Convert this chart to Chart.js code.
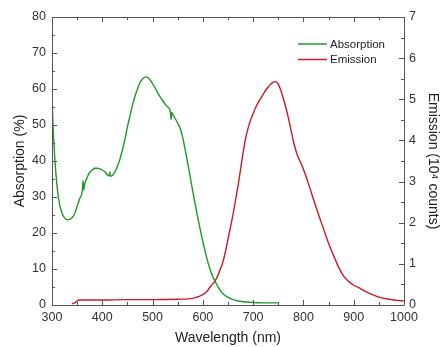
<!DOCTYPE html>
<html>
<head>
<meta charset="utf-8">
<script src="https://cdn.jsdelivr.net/npm/chart.js@4.4.1/dist/chart.umd.min.js"></script>
<style>
  html, body { margin: 0; padding: 0; background: #fff; }
  #wrap { width: 441px; height: 347px; }
</style>
</head>
<body>
<div id="wrap"><canvas id="c" width="441" height="347"></canvas></div>
<script>
// Absorption spectrum: wavelength (nm) and absorption (%)
const absWavelength = [300, 302, 305, 310, 315, 320, 325, 330, 335, 340, 345, 350, 355, 360, 362, 363, 365, 370, 375, 380, 385, 390, 395, 400, 405, 410, 414, 415, 416, 420, 425, 430, 435, 440, 445, 450, 455, 460, 465, 470, 475, 480, 485, 490, 495, 500, 505, 510, 515, 520, 525, 530, 535, 537, 538, 540, 545, 550, 555, 560, 565, 570, 575, 580, 585, 590, 595, 600, 605, 610, 615, 620, 625, 630, 635, 640, 650, 660, 670, 680, 700, 720, 750];
const absPercent = [58, 50, 42, 33, 28, 25.5, 24.2, 23.7, 23.8, 24.3, 25.3, 27.5, 29.5, 31.5, 34.5, 32, 33.5, 35.5, 36.8, 37.5, 38, 38, 37.8, 37.5, 37, 36.2, 35.8, 37, 35.8, 36, 37, 38.5, 40.5, 43, 46, 49.5, 52.5, 55.5, 58, 60, 61.8, 62.8, 63.3, 63.2, 62.5, 61.5, 60.3, 59, 57.8, 56.8, 55.8, 55, 54, 51.5, 53.5, 53, 51.8, 50.5, 49, 46.5, 43, 39.3, 35.5, 31.5, 27.8, 24.2, 20.8, 17.6, 14.6, 11.9, 9.6, 7.8, 6.4, 5.1, 4, 3.1, 2.1, 1.5, 1.1, 0.9, 0.7, 0.6, 0.6];

// Emission spectrum: wavelength (nm) and counts (10^4)
const emWavelength = [340, 345, 350, 355, 400, 450, 500, 550, 580, 590, 600, 605, 610, 615, 620, 625, 630, 635, 640, 645, 650, 655, 660, 665, 670, 675, 680, 685, 690, 695, 700, 705, 710, 715, 720, 725, 730, 735, 740, 745, 750, 755, 760, 765, 770, 775, 780, 785, 790, 795, 800, 810, 820, 830, 840, 850, 860, 870, 880, 890, 900, 910, 920, 930, 940, 950, 960, 970, 980, 990, 1000];
const emCounts = [0.03, 0.05, 0.1, 0.12, 0.12, 0.13, 0.13, 0.14, 0.16, 0.2, 0.25, 0.3, 0.36, 0.45, 0.52, 0.6, 0.72, 0.88, 1.05, 1.3, 1.6, 1.9, 2.2, 2.55, 2.9, 3.3, 3.7, 4.05, 4.3, 4.5, 4.65, 4.8, 4.92, 5.02, 5.12, 5.22, 5.3, 5.37, 5.42, 5.43, 5.36, 5.22, 5.02, 4.8, 4.55, 4.27, 3.98, 3.75, 3.58, 3.45, 3.3, 2.95, 2.57, 2.2, 1.85, 1.5, 1.2, 0.92, 0.7, 0.57, 0.48, 0.42, 0.35, 0.29, 0.24, 0.19, 0.16, 0.14, 0.12, 0.11, 0.1];

// Axis ranges and tick steps
const xRange = [300, 1000];
const xMajorStep = 100;
const xMinorStep = 50;
const yLeftRange = [0, 80];
const yLeftMajor = 10;
const yLeftMinor = 5;
const yRightRange = [0, 7];
const yRightMajor = 1;
const yRightMinor = 0.5;

const seriesLabels = ['Absorption', 'Emission'];
const seriesColors = ['#1e9a2a', '#cc1a26'];

const FONT = "'Liberation Sans', Arial, sans-serif";
const FRAME = '#555555';

function toPoints(xs, ys) {
  return xs.map((x, i) => ({ x: x, y: ys[i] }));
}

// Frame, inward ticks and the legend box
const frameAndTicks = {
  id: 'frameAndTicks',
  afterDatasetsDraw(chart) {
    const ctx = chart.ctx;
    const a = chart.chartArea;
    const sx = chart.scales.x, sy = chart.scales.y, sr = chart.scales.y1;
    ctx.save();
    ctx.strokeStyle = FRAME;
    ctx.lineWidth = 1;
    ctx.beginPath();
    ctx.rect(Math.round(a.left) + 0.5, Math.round(a.top) + 0.5, Math.round(a.right - a.left), Math.round(a.bottom - a.top));
    ctx.stroke();

    ctx.beginPath();
    for (let v = xRange[0]; v <= xRange[1]; v += xMinorStep) {
      const px = Math.round(sx.getPixelForValue(v)) + 0.5;
      const len = (v % xMajorStep === 0) ? 5 : 3;
      ctx.moveTo(px, a.bottom); ctx.lineTo(px, a.bottom - len);
      ctx.moveTo(px, a.top); ctx.lineTo(px, a.top + len);
    }
    for (let v = yLeftRange[0]; v <= yLeftRange[1]; v += yLeftMinor) {
      const py = Math.round(sy.getPixelForValue(v)) + 0.5;
      const len = (v % yLeftMajor === 0) ? 5 : 3;
      ctx.moveTo(a.left, py); ctx.lineTo(a.left + len, py);
    }
    for (let v = yRightRange[0]; v <= yRightRange[1] + 1e-9; v += yRightMinor) {
      const py = Math.round(sr.getPixelForValue(v)) + 0.5;
      const len = (Math.abs(v % yRightMajor) < 1e-9) ? 5 : 3;
      ctx.moveTo(a.right, py); ctx.lineTo(a.right - len, py);
    }
    ctx.stroke();

    // legend
    const lx = a.left + 246, ly = a.top + 27;
    ctx.font = '11.5px ' + FONT;
    ctx.textBaseline = 'middle';
    ctx.fillStyle = '#222';
    chart.data.datasets.forEach((ds, i) => {
      const y = ly + i * 15.5;
      ctx.strokeStyle = ds.borderColor;
      ctx.lineWidth = 1.5;
      ctx.beginPath();
      ctx.moveTo(lx, y); ctx.lineTo(lx + 29, y);
      ctx.stroke();
      ctx.fillText(ds.label, lx + 32, y + 0.5);
    });
    ctx.restore();
  }
};

new Chart(document.getElementById('c'), {
  type: 'line',
  data: {
    datasets: [
      {
        label: seriesLabels[0],
        data: toPoints(absWavelength, absPercent),
        borderColor: seriesColors[0],
        borderWidth: 1.4,
        pointRadius: 0,
        cubicInterpolationMode: 'monotone',
        yAxisID: 'y'
      },
      {
        label: seriesLabels[1],
        data: toPoints(emWavelength, emCounts),
        borderColor: seriesColors[1],
        borderWidth: 1.4,
        pointRadius: 0,
        cubicInterpolationMode: 'monotone',
        yAxisID: 'y1'
      }
    ]
  },
  options: {
    responsive: false,
    animation: false,
    devicePixelRatio: 1,
    layout: { padding: { top: 17, left: 0, right: 0, bottom: 0 } },
    plugins: { legend: { display: false }, tooltip: { enabled: false } },
    scales: {
      x: {
        type: 'linear',
        min: xRange[0], max: xRange[1],
        grid: { display: false, drawTicks: false },
        border: { display: false },
        ticks: { stepSize: xMajorStep, padding: 5, color: '#333', font: { family: FONT, size: 12.5 }, maxRotation: 0, callback: v => String(v) },
        title: { display: true, text: 'Wavelength (nm)', color: '#222', font: { family: FONT, size: 14 }, padding: { top: 5, bottom: 0 } },
        afterFit(s) { s.height = 42; }
      },
      y: {
        position: 'left',
        min: yLeftRange[0], max: yLeftRange[1],
        grid: { display: false, drawTicks: false },
        border: { display: false },
        ticks: { stepSize: yLeftMajor, padding: 6, color: '#333', font: { family: FONT, size: 12.5 } },
        title: { display: true, text: 'Absorption (%)', color: '#222', font: { family: FONT, size: 14 }, padding: { top: 12, bottom: 0 } },
        afterFit(s) { s.width = 52; }
      },
      y1: {
        position: 'right',
        min: yRightRange[0], max: yRightRange[1],
        grid: { display: false, drawTicks: false },
        border: { display: false },
        ticks: { stepSize: yRightMajor, padding: 5, color: '#333', font: { family: FONT, size: 12.5 } },
        title: { display: true, text: 'Emission (10\u2074 counts)', color: '#222', font: { family: FONT, size: 14 }, padding: { top: 0, bottom: 2 } },
        afterFit(s) { s.width = 37; }
      }
    }
  },
  plugins: [frameAndTicks]
});
</script>
</body>
</html>
